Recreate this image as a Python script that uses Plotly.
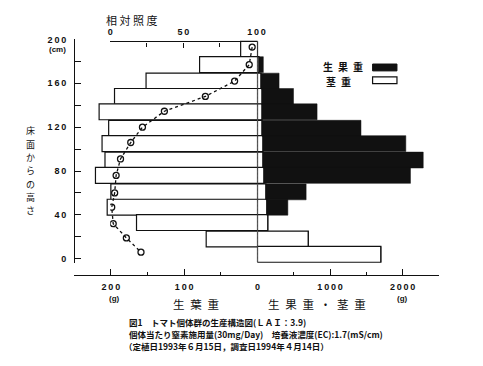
import plotly.graph_objects as go

# ---------------- data ----------------
band_height_cm = [191, 177, 162, 148, 134, 119, 105, 90, 76, 61, 47, 33, 18, 4]
band_width_cm = 14.5
leaf_g = [23, 79, 152, 195, 216, 203, 212, 208, 221, 200, 205, 165, 70, 0]
stem_g = [0, 20, 47, 61, 61, 61, 74, 74, 88, 115, 128, 142, 700, 1700]
fruit_g = [0, 60, 250, 435, 760, 1365, 1970, 2210, 2020, 555, 290, 0, 0, 0]
light_height_cm = [193, 177, 162, 148, 134.5, 120, 106, 91, 76, 60, 47, 32, 19, 6]
light_pct = [97, 95, 85, 65, 37, 22, 14, 7, 4, 3, 1, 2, 11, 21]

y_ticks = [0, 20, 40, 60, 80, 100, 120, 140, 160, 180, 200]
y_ticktext = ["0", "", "4\u20090", "", "8\u20090", "", "1\u20092\u20090", "", "1\u20096\u20090", "", "2\u20090\u20090"]
leaf_ticks = [0, 100, 200]
leaf_ticktext = ["0", "1\u20090\u20090", "2\u20090\u20090"]
fw_ticks = [0, 1000, 2000]
fw_ticktext = ["", "1\u20090\u20090\u20090", "2\u20090\u20090\u20090"]
light_ticks = [0, 50, 100]
light_ticktext = ["0", "5\u20090", "1\u20090\u20090"]

W, H = 483, 366
def fx(px):
    return px / W
def fy(py):
    return 1 - py / H

BLACK = "#111111"
NUM_FONT = dict(family="Liberation Sans", size=9, color=BLACK, weight="bold")
JP = "Noto Sans CJK JP"

fig = go.Figure()

# leaf (left side)
fig.add_trace(go.Bar(
    y=band_height_cm, x=leaf_g, orientation="h", width=band_width_cm,
    xaxis="x", yaxis="y", marker=dict(color="white", line=dict(color=BLACK, width=1.2)),
    showlegend=False, hoverinfo="skip"))
# stem (right side, white)
fig.add_trace(go.Bar(
    y=band_height_cm, x=stem_g, orientation="h", width=band_width_cm,
    xaxis="x2", yaxis="y", marker=dict(color="white", line=dict(color=BLACK, width=1.2)),
    showlegend=False, hoverinfo="skip"))
# fruit (right side, black, stacked on stem)
fig.add_trace(go.Bar(
    y=band_height_cm, x=fruit_g, base=stem_g, orientation="h", width=band_width_cm,
    xaxis="x2", yaxis="y", marker=dict(color=BLACK, line=dict(color=BLACK, width=0.5)),
    showlegend=False, hoverinfo="skip"))
# relative illuminance
fig.add_trace(go.Scatter(
    x=light_pct, y=light_height_cm, xaxis="x3", yaxis="y", mode="lines+markers",
    line=dict(color=BLACK, width=1.3, dash="3px,3px"),
    marker=dict(symbol="circle-open", size=6, color=BLACK, line=dict(width=1.3)),
    showlegend=False, hoverinfo="skip"))

fig.update_layout(
    width=W, height=H, margin=dict(l=0, r=0, t=0, b=0),
    paper_bgcolor="white", plot_bgcolor="rgba(0,0,0,0)",
    barmode="overlay",
    yaxis=dict(domain=[fy(262), fy(35)], range=[-3.6, 200], anchor="free", position=fx(73),
               showline=True, linecolor=BLACK, linewidth=1.3, showgrid=False, zeroline=False,
               ticks="inside", ticklen=6, tickwidth=1.2, tickcolor=BLACK,
               tickvals=y_ticks, ticktext=y_ticktext, tickfont=NUM_FONT, ticklabelstandoff=6),
    xaxis=dict(domain=[fx(73), fx(261)], range=[250, 0], anchor="free", position=fy(275),
               showline=True, linecolor=BLACK, linewidth=1.3, showgrid=False, zeroline=False,
               ticks="inside", ticklen=6, tickwidth=1.2, tickcolor=BLACK,
               tickvals=leaf_ticks, ticktext=leaf_ticktext, tickfont=NUM_FONT, ticklabelstandoff=3,
               minor=dict(tickvals=[50, 150, 250], ticks="inside", ticklen=3, tickwidth=1.2, tickcolor=BLACK)),
    xaxis2=dict(domain=[fx(261), fx(447)], range=[0, 2500], anchor="free", position=fy(275),
                showline=True, linecolor=BLACK, linewidth=1.3, showgrid=False, zeroline=False,
                ticks="inside", ticklen=6, tickwidth=1.2, tickcolor=BLACK,
                tickvals=fw_ticks, ticktext=fw_ticktext, tickfont=NUM_FONT, ticklabelstandoff=3,
                minor=dict(tickvals=[500, 1500, 2500], ticks="inside", ticklen=3, tickwidth=1.2, tickcolor=BLACK)),
    xaxis3=dict(domain=[fx(110), fx(260)], range=[0, 100], anchor="free", position=fy(37), side="top",
                showline=True, linecolor=BLACK, linewidth=1.3, showgrid=False, zeroline=False,
                ticks="inside", ticklen=5, tickwidth=1.2, tickcolor=BLACK,
                tickvals=light_ticks, ticktext=light_ticktext, tickfont=NUM_FONT, ticklabelstandoff=3,
                minor=dict(tickvals=[25, 75], ticks="inside", ticklen=4, tickwidth=1.2, tickcolor=BLACK)),
)

# zero reference line (dashed)
fig.add_shape(type="line", xref="x2", yref="paper", x0=0, x1=0, y0=fy(262), y1=fy(37),
              line=dict(color="#444444", width=1, dash="2px,2px"))

# legend (custom)
fig.add_shape(type="rect", xref="paper", yref="paper", x0=fx(379), x1=fx(404), y0=fy(67), y1=fy(60),
              fillcolor=BLACK, line=dict(color=BLACK, width=1))
fig.add_shape(type="rect", xref="paper", yref="paper", x0=fx(379), x1=fx(404), y0=fy(80), y1=fy(73),
              fillcolor="white", line=dict(color=BLACK, width=1.2))

def ann(text, x, y, size=12, xanchor="center", family=JP, weight="normal"):
    fig.add_annotation(text=text, x=fx(x), y=fy(y), xref="paper", yref="paper",
                       xanchor=xanchor, yanchor="middle", showarrow=False,
                       font=dict(family=family, size=size, color=BLACK, weight=weight))

ann("生\u2002果\u2002重", 371, 62.5, size=10, xanchor="right", weight="bold")
ann("茎\u2002重", 359, 77.5, size=10, xanchor="right", weight="bold")

ann("相 対 照 度", 132, 15, size=11)
ann("(cm)", 56, 45, size=8, family="Liberation Sans", weight="bold")
ann("(g)", 114, 298, size=8, family="Liberation Sans", weight="bold")
ann("(g)", 410, 298, size=8, family="Liberation Sans", weight="bold")
ann("生\u2002葉\u2002重", 198, 304, size=11.5)
ann("生\u2002果\u2002重\u2002・\u2002茎\u2002重", 322, 304, size=11.5)

# vertical axis title, one character per annotation (top to bottom)
for i, ch in enumerate("床面からの高さ"):
    ann(ch, 28, 128 + 13.5 * i, size=9)

ann("図1　トマト個体群の生産構造図(ＬＡＩ：3.9)", 127, 322, size=8.5, xanchor="left", weight="bold")
ann("個体当たり窒素施用量(30mg/Day)　培養液濃度(EC):1.7(mS/cm)", 127, 334.5, size=8.5, xanchor="left", weight="bold")
ann("（定植日1993年６月15日，調査日1994年４月14日）", 122, 347, size=8.5, xanchor="left", weight="bold")

fig.write_html("out.html", config={"displayModeBar": False},
               post_script="document.body.style.margin='0px';")
